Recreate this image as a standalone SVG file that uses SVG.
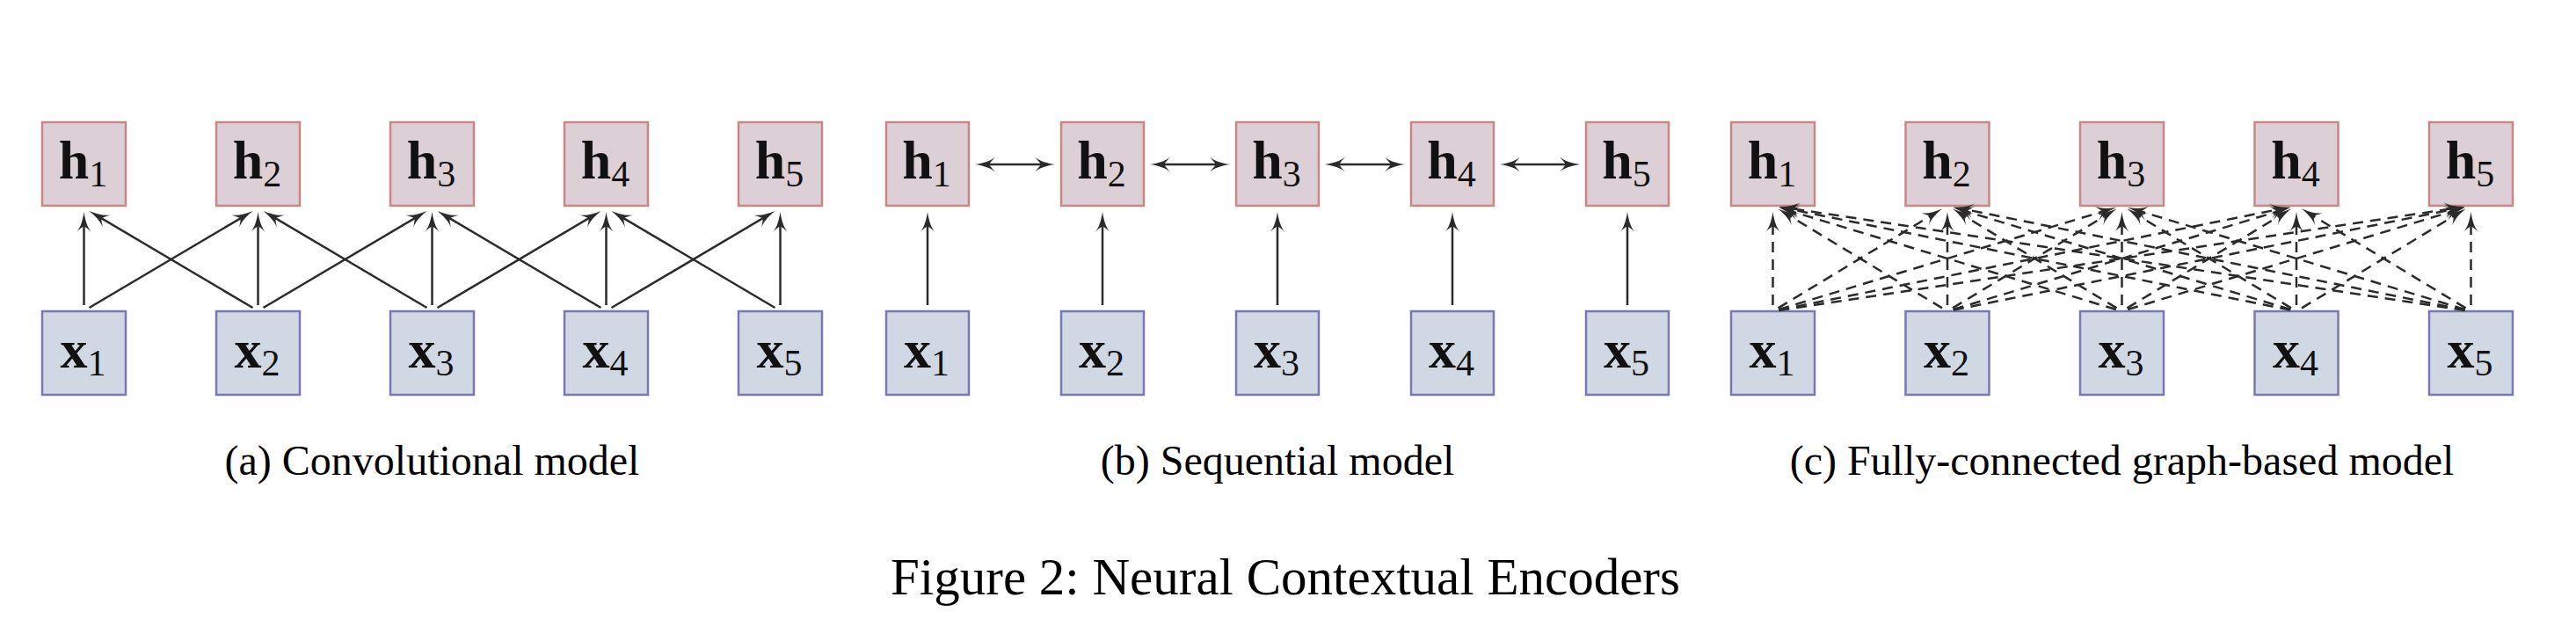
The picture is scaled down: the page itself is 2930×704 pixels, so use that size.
<svg xmlns="http://www.w3.org/2000/svg" width="2930" height="704" viewBox="0 0 2930 704">
<style>
.h rect{fill:#dcd0d6;stroke:#c98686;stroke-width:2.5}
.x rect{fill:#d0d8e4;stroke:#7878b4;stroke-width:2.5}
.lab{font-family:"Liberation Serif","Times New Roman",serif;fill:#111}
.b{font-weight:bold;font-size:62px}
.s{font-size:42px}
.e{fill:none;stroke:#2b2b2b;stroke-width:2.5;marker-end:url(#ah)}
.d{stroke-dasharray:12 8}
.bi{marker-start:url(#ah)}
.cap{font-family:"Liberation Serif","Times New Roman",serif;font-size:48px;fill:#000;text-anchor:middle}
.main{font-size:59px}
</style>
<defs>
<marker id="ah" markerUnits="userSpaceOnUse" viewBox="-25 -10 26 20" markerWidth="26" markerHeight="20" refX="-10" refY="0" orient="auto-start-reverse">
<path d="M0,0 C-10,-1.5 -18,-4 -23,-8.5 C-19,-4 -17,-2 -16.5,0 C-17,2 -19,4 -23,8.5 C-18,4 -10,1.5 0,0 Z" fill="#2b2b2b"/>
</marker>
</defs>
<rect width="2930" height="704" fill="#fff"/>

<!-- Panel a nodes -->
<g id="a-h1" class="h"><rect x="48" y="139" width="95" height="95"/><text class="lab" x="94.5" y="203" text-anchor="middle"><tspan class="b">h</tspan><tspan class="s" dy="9">1</tspan></text></g>
<g id="a-h2" class="h"><rect x="246" y="139" width="95" height="95"/><text class="lab" x="292.5" y="203" text-anchor="middle"><tspan class="b">h</tspan><tspan class="s" dy="9">2</tspan></text></g>
<g id="a-h3" class="h"><rect x="444" y="139" width="95" height="95"/><text class="lab" x="490.5" y="203" text-anchor="middle"><tspan class="b">h</tspan><tspan class="s" dy="9">3</tspan></text></g>
<g id="a-h4" class="h"><rect x="642" y="139" width="95" height="95"/><text class="lab" x="688.5" y="203" text-anchor="middle"><tspan class="b">h</tspan><tspan class="s" dy="9">4</tspan></text></g>
<g id="a-h5" class="h"><rect x="840" y="139" width="95" height="95"/><text class="lab" x="886.5" y="203" text-anchor="middle"><tspan class="b">h</tspan><tspan class="s" dy="9">5</tspan></text></g>
<g id="a-x1" class="x"><rect x="48" y="354" width="95" height="95"/><text class="lab" x="94.5" y="418" text-anchor="middle"><tspan class="b">x</tspan><tspan class="s" dy="9">1</tspan></text></g>
<g id="a-x2" class="x"><rect x="246" y="354" width="95" height="95"/><text class="lab" x="292.5" y="418" text-anchor="middle"><tspan class="b">x</tspan><tspan class="s" dy="9">2</tspan></text></g>
<g id="a-x3" class="x"><rect x="444" y="354" width="95" height="95"/><text class="lab" x="490.5" y="418" text-anchor="middle"><tspan class="b">x</tspan><tspan class="s" dy="9">3</tspan></text></g>
<g id="a-x4" class="x"><rect x="642" y="354" width="95" height="95"/><text class="lab" x="688.5" y="418" text-anchor="middle"><tspan class="b">x</tspan><tspan class="s" dy="9">4</tspan></text></g>
<g id="a-x5" class="x"><rect x="840" y="354" width="95" height="95"/><text class="lab" x="886.5" y="418" text-anchor="middle"><tspan class="b">x</tspan><tspan class="s" dy="9">5</tspan></text></g>

<!-- Panel b nodes -->
<g id="b-h1" class="h"><rect x="1008" y="139" width="94" height="95"/><text class="lab" x="1054" y="203" text-anchor="middle"><tspan class="b">h</tspan><tspan class="s" dy="9">1</tspan></text></g>
<g id="b-h2" class="h"><rect x="1207" y="139" width="94" height="95"/><text class="lab" x="1253" y="203" text-anchor="middle"><tspan class="b">h</tspan><tspan class="s" dy="9">2</tspan></text></g>
<g id="b-h3" class="h"><rect x="1406" y="139" width="94" height="95"/><text class="lab" x="1452" y="203" text-anchor="middle"><tspan class="b">h</tspan><tspan class="s" dy="9">3</tspan></text></g>
<g id="b-h4" class="h"><rect x="1605" y="139" width="94" height="95"/><text class="lab" x="1651" y="203" text-anchor="middle"><tspan class="b">h</tspan><tspan class="s" dy="9">4</tspan></text></g>
<g id="b-h5" class="h"><rect x="1804" y="139" width="94" height="95"/><text class="lab" x="1850" y="203" text-anchor="middle"><tspan class="b">h</tspan><tspan class="s" dy="9">5</tspan></text></g>
<g id="b-x1" class="x"><rect x="1008" y="354" width="94" height="95"/><text class="lab" x="1054" y="418" text-anchor="middle"><tspan class="b">x</tspan><tspan class="s" dy="9">1</tspan></text></g>
<g id="b-x2" class="x"><rect x="1207" y="354" width="94" height="95"/><text class="lab" x="1253" y="418" text-anchor="middle"><tspan class="b">x</tspan><tspan class="s" dy="9">2</tspan></text></g>
<g id="b-x3" class="x"><rect x="1406" y="354" width="94" height="95"/><text class="lab" x="1452" y="418" text-anchor="middle"><tspan class="b">x</tspan><tspan class="s" dy="9">3</tspan></text></g>
<g id="b-x4" class="x"><rect x="1605" y="354" width="94" height="95"/><text class="lab" x="1651" y="418" text-anchor="middle"><tspan class="b">x</tspan><tspan class="s" dy="9">4</tspan></text></g>
<g id="b-x5" class="x"><rect x="1804" y="354" width="94" height="95"/><text class="lab" x="1850" y="418" text-anchor="middle"><tspan class="b">x</tspan><tspan class="s" dy="9">5</tspan></text></g>

<!-- Panel c nodes -->
<g id="c-h1" class="h"><rect x="1969" y="139" width="95" height="95"/><text class="lab" x="2015.5" y="203" text-anchor="middle"><tspan class="b">h</tspan><tspan class="s" dy="9">1</tspan></text></g>
<g id="c-h2" class="h"><rect x="2167.5" y="139" width="95" height="95"/><text class="lab" x="2214" y="203" text-anchor="middle"><tspan class="b">h</tspan><tspan class="s" dy="9">2</tspan></text></g>
<g id="c-h3" class="h"><rect x="2366" y="139" width="95" height="95"/><text class="lab" x="2412.5" y="203" text-anchor="middle"><tspan class="b">h</tspan><tspan class="s" dy="9">3</tspan></text></g>
<g id="c-h4" class="h"><rect x="2564.5" y="139" width="95" height="95"/><text class="lab" x="2611" y="203" text-anchor="middle"><tspan class="b">h</tspan><tspan class="s" dy="9">4</tspan></text></g>
<g id="c-h5" class="h"><rect x="2763" y="139" width="95" height="95"/><text class="lab" x="2809.5" y="203" text-anchor="middle"><tspan class="b">h</tspan><tspan class="s" dy="9">5</tspan></text></g>
<g id="c-x1" class="x"><rect x="1969" y="354" width="95" height="95"/><text class="lab" x="2015.5" y="418" text-anchor="middle"><tspan class="b">x</tspan><tspan class="s" dy="9">1</tspan></text></g>
<g id="c-x2" class="x"><rect x="2167.5" y="354" width="95" height="95"/><text class="lab" x="2214" y="418" text-anchor="middle"><tspan class="b">x</tspan><tspan class="s" dy="9">2</tspan></text></g>
<g id="c-x3" class="x"><rect x="2366" y="354" width="95" height="95"/><text class="lab" x="2412.5" y="418" text-anchor="middle"><tspan class="b">x</tspan><tspan class="s" dy="9">3</tspan></text></g>
<g id="c-x4" class="x"><rect x="2564.5" y="354" width="95" height="95"/><text class="lab" x="2611" y="418" text-anchor="middle"><tspan class="b">x</tspan><tspan class="s" dy="9">4</tspan></text></g>
<g id="c-x5" class="x"><rect x="2763" y="354" width="95" height="95"/><text class="lab" x="2809.5" y="418" text-anchor="middle"><tspan class="b">x</tspan><tspan class="s" dy="9">5</tspan></text></g>

<g id="connectors">
<g id="conn-a">
<path class="e" d="M95.5 347L95.5 251"/>
<path class="e" d="M293.5 347L293.5 251"/>
<path class="e" d="M491.5 347L491.5 251"/>
<path class="e" d="M689.5 347L689.5 251"/>
<path class="e" d="M887.5 347L887.5 251"/>
<path class="e" d="M101.5 350L278.9 245.1"/>
<path class="e" d="M299.5 350L476.9 245.1"/>
<path class="e" d="M497.5 350L674.9 245.1"/>
<path class="e" d="M695.5 350L872.9 245.1"/>
<path class="e" d="M287.5 350L110.1 245.1"/>
<path class="e" d="M485.5 350L308.1 245.1"/>
<path class="e" d="M683.5 350L506.1 245.1"/>
<path class="e" d="M881.5 350L704.1 245.1"/>
</g>
<g id="conn-b">
<path class="e" d="M1055 347L1055 251"/>
<path class="e" d="M1254 347L1254 251"/>
<path class="e" d="M1453 347L1453 251"/>
<path class="e" d="M1652 347L1652 251"/>
<path class="e" d="M1851 347L1851 251"/>
<path class="e bi" d="M1119 187L1190 187"/>
<path class="e bi" d="M1318 187L1389 187"/>
<path class="e bi" d="M1517 187L1588 187"/>
<path class="e bi" d="M1716 187L1787 187"/>
</g>
<g id="conn-c">
<path class="e d" d="M2016.5 347L2016.5 251"/>
<path class="e d" d="M2022.49 350.38L2200.45 242.79"/>
<path class="e d" d="M2023.2 351.97L2397.23 238.92"/>
<path class="e d" d="M2023.36 352.62L2595.33 237.36"/>
<path class="e d" d="M2023.42 352.95L2793.69 236.54"/>
<path class="e d" d="M2209.01 350.38L2031.05 242.79"/>
<path class="e d" d="M2215 347L2215 251"/>
<path class="e d" d="M2220.99 350.38L2398.95 242.79"/>
<path class="e d" d="M2221.7 351.97L2595.73 238.92"/>
<path class="e d" d="M2221.86 352.62L2793.83 237.36"/>
<path class="e d" d="M2406.8 351.97L2032.77 238.92"/>
<path class="e d" d="M2407.51 350.38L2229.55 242.79"/>
<path class="e d" d="M2413.5 347L2413.5 251"/>
<path class="e d" d="M2419.49 350.38L2597.45 242.79"/>
<path class="e d" d="M2420.2 351.97L2794.23 238.92"/>
<path class="e d" d="M2605.14 352.62L2033.17 237.36"/>
<path class="e d" d="M2605.3 351.97L2231.27 238.92"/>
<path class="e d" d="M2606.01 350.38L2428.05 242.79"/>
<path class="e d" d="M2612 347L2612 251"/>
<path class="e d" d="M2617.99 350.38L2795.95 242.79"/>
<path class="e d" d="M2803.58 352.95L2033.31 236.54"/>
<path class="e d" d="M2803.64 352.62L2231.67 237.36"/>
<path class="e d" d="M2803.8 351.97L2429.77 238.92"/>
<path class="e d" d="M2804.51 350.38L2626.55 242.79"/>
<path class="e d" d="M2810.5 347L2810.5 251"/>
</g>
</g>

<text class="cap" x="491.5" y="540">(a) Convolutional model</text>
<text class="cap" x="1453" y="540">(b) Sequential model</text>
<text class="cap" x="2413.5" y="540">(c) Fully-connected graph-based model</text>
<text class="cap main" x="1462" y="676">Figure 2: Neural Contextual Encoders</text>
</svg>
